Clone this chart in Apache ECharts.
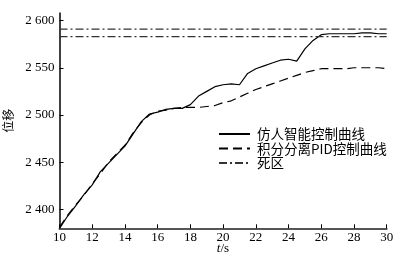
<!DOCTYPE html>
<html><head><meta charset="utf-8">
<script src="https://cdn.jsdelivr.net/npm/echarts@6/dist/echarts.min.js"></script>
<style>html,body{margin:0;padding:0;background:#fff}#c{width:401px;height:257px}</style>
</head><body><div id="c"></div>
<script>
var times = [10,10.5,11,11.5,12,12.5,13,13.5,14,14.5,15,15.5,16,16.5,17,17.5,18,18.5,19,19.5,20,20.5,21,21.5,22,22.5,23,23.5,24,24.5,25,25.5,26,26.5,27,27.5,28,28.5,29,29.5,30];
var smartValues = [2380,2393,2404,2416,2426,2440,2449,2458,2467,2480,2493,2501,2503,2506,2507,2507,2511,2520,2525,2530,2532,2533,2532,2544,2549,2552,2555,2558,2559,2557,2570,2579,2585,2586,2586,2586,2586,2587,2587,2586,2586];
var pidValues = [2381,2394,2405,2415,2427,2438,2450,2459,2468,2481,2492,2500,2504,2505,2507,2508,2508,2508,2509,2510,2513,2515,2519,2523,2527,2530,2533,2536,2539,2542,2545,2547,2549,2549,2549,2549,2550,2550,2550,2550,2549];
var deadUpper = 2591, deadLower = 2583;
var yTicks = [2400,2450,2500,2550,2600];
var names = ['仿人智能控制曲线','积分分离PID控制曲线','死区'];
var xName = 't/s';

function pair(t, v){ return t.map(function(x,i){return [x, v[i]];}); }
var serif = 'Liberation Serif';
var cjk = 'Noto Sans CJK SC';
var chart = echarts.init(document.getElementById('c'), null, {renderer:'canvas'});
chart.setOption({
  animation:false,
  grid:{left:59.5, right:14.3, top:13, bottom:28.7, outerBoundsMode:'none', containLabel:false},
  graphic:[{
    type:'text', x:223, y:249,
    style:{text:'{i|t}/s', fontFamily:serif, fontSize:13, fill:'#000', align:'center', verticalAlign:'middle',
      rich:{i:{fontStyle:'italic', fontFamily:serif, fontSize:13, fill:'#000'}}}
  }],
  legend:{
    orient:'vertical', left:213, top:122, itemWidth:31, itemHeight:14, itemGap:0.5,
    itemStyle:{opacity:0},
    textStyle:{fontFamily:cjk, fontSize:13.5, color:'#000', lineHeight:14, padding:[0,0,0,2]},
    data:names
  },
  xAxis:{
    type:'value', min:10, max:30, interval:2,
    axisLine:{lineStyle:{color:'#555', width:2}},
    axisTick:{inside:true, length:4, lineStyle:{color:'#000', width:1}},
    axisLabel:{fontFamily:serif, fontSize:13, color:'#000', margin:3},
    splitLine:{show:false}
  },
  yAxis:{
    type:'value', min:2380, max:2608,
    name:'位移', nameLocation:'middle', nameGap:42, nameRotate:90,
    nameTextStyle:{fontFamily:cjk, fontSize:12, color:'#000'},
    axisLine:{show:true, lineStyle:{color:'#000', width:1.5}},
    axisTick:{show:true, inside:true, length:4, customValues:yTicks, lineStyle:{color:'#000'}},
    axisLabel:{fontFamily:serif, fontSize:13, color:'#000', margin:5, customValues:yTicks,
      formatter:function(v){return String(v).replace(/(\d)(\d{3})$/,'$1 $2');}},
    splitLine:{show:false}
  },
  series:[
    {name:names[0], type:'line', data:pair(times, smartValues), symbol:'none', lineStyle:{color:'#000', width:1.2}, itemStyle:{color:'#000'}},
    {name:names[1], type:'line', data:pair(times, pidValues), symbol:'none', lineStyle:{color:'#000', width:1.2, type:[9,5]}, itemStyle:{color:'#000'}},
    {name:names[2], type:'line', data:[[10,deadUpper],[30,deadUpper]], symbol:'none', lineStyle:{color:'#333', width:1.2, type:[8,3,2,3]}, itemStyle:{color:'#333'}},
    {name:names[2], type:'line', data:[[10,deadLower],[30,deadLower]], symbol:'none', lineStyle:{color:'#333', width:1.2, type:[8,3,2,3]}, itemStyle:{color:'#333'}}
  ]
});
</script></body></html>
